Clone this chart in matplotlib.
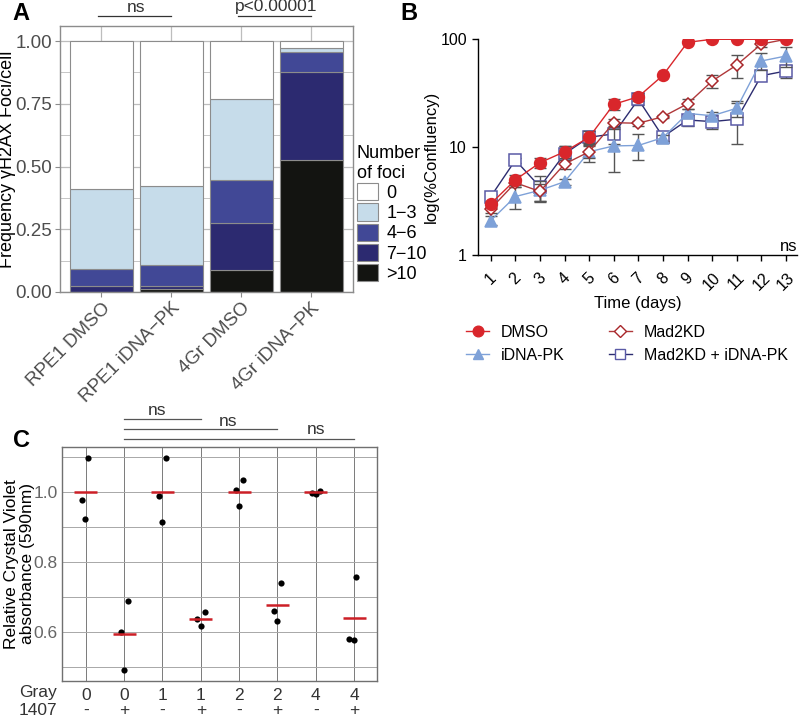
import numpy as np
import matplotlib
matplotlib.use("Agg")
import matplotlib.pyplot as plt
from matplotlib.patches import Patch
from matplotlib.lines import Line2D
import matplotlib.transforms as mtransforms

plt.rcParams['font.family'] = ['Liberation Sans', 'DejaVu Sans']

# ---------------- data ----------------
# panel A: stacked fractions of cells per foci bin
a_groups = ["RPE1 DMSO", "RPE1 iDNA\u2212PK", "4Gr DMSO", "4Gr iDNA\u2212PK"]
a_bins = ["0", "1\u22123", "4\u22126", "7\u221210", ">10"]
frac_gt10 = [0.000, 0.010, 0.088, 0.525]
frac_7_10 = [0.024, 0.014, 0.188, 0.353]
frac_4_6 = [0.066, 0.083, 0.170, 0.079]
frac_1_3 = [0.319, 0.316, 0.322, 0.016]
frac_0 = [0.591, 0.577, 0.232, 0.027]

# panel B: confluency over time
days = list(range(1, 14))
dmso = [3.0, 5.0, 7.2, 9.1, 12.4, 25.0, 29.4, 46.4, 93.8, 100, 100, 100, 100]
dmso_err = [0.2, 0.55, 0.8, 1.2, 1.7, 3.0, 2.5, 0, 0, 0, 0, 0, 0]
idnapk = [2.1, 3.5, 4.0, 4.8, 9.1, 10.3, 10.4, 12.3, 20.6, 19.6, 23.0, 63.0, 70.0]
idnapk_err = [0.2, 0.8, 0.9, 0.3, 1.8, 4.4, 2.8, 0.8, 2.0, 1.8, 4.0, 11.0, 15.0]
mad2kd = [2.7, 4.7, 3.9, 7.0, 9.1, 16.9, 16.7, 19.2, 25.3, 41.1, 57.8, 90.4, 100]
mad2kd_err = [0.25, 0.4, 0.7, 0.7, 1.2, 1.5, 1.0, 0.5, 2.5, 5.5, 14.0, 5.0, 0]
mad2kd_idnapk = [3.5, 7.6, 4.3, 8.7, 12.4, 13.3, 27.8, 12.5, 17.9, 17.3, 18.2, 46.0, 50.9]
mad2kd_idnapk_err = [0.2, 0.4, 1.1, 1.5, 1.8, 2.5, 3.0, 1.5, 2.0, 2.5, 7.5, 0, 7.0]

# panel C: relative crystal violet absorbance
c_gray = ["0", "0", "1", "1", "2", "2", "4", "4"]
c_1407 = ["-", "+", "-", "+", "-", "+", "-", "+"]
c_points = [
    [1.098, 0.978, 0.923],
    [0.689, 0.600, 0.490],
    [1.098, 0.988, 0.913],
    [0.637, 0.656, 0.615],
    [1.006, 1.035, 0.960],
    [0.660, 0.740, 0.631],
    [0.998, 0.995, 1.003],
    [0.578, 0.575, 0.757],
]
c_jitter = [
    [0.07, -0.11, -0.01],
    [0.10, -0.09, 0.01],
    [0.10, -0.10, 0.0],
    [-0.10, 0.11, 0.0],
    [-0.09, 0.11, 0.0],
    [-0.09, 0.09, 0.0],
    [-0.10, 0.0, 0.10],
    [-0.12, 0.0, 0.05],
]
c_means = [1.0, 0.593, 1.0, 0.636, 1.0, 0.676, 1.0, 0.638]

W, H = 799, 717
fig = plt.figure(figsize=(W / 100, H / 100), dpi=100)


def px_axes(l, t, r, b):
    return fig.add_axes([l / W, 1 - b / H, (r - l) / W, (b - t) / H])


def fig_xy(x, y):
    return x / W, 1 - y / H


# ---------------- panel A ----------------
axA = px_axes(59.5, 26, 353, 292)
xa = np.arange(1, 5)
stack = [frac_gt10, frac_7_10, frac_4_6, frac_1_3, frac_0]
a_colors = ["#131411", "#2c2a70", "#414896", "#c6dcea", "#ffffff"]
bottom = np.zeros(4)
for vals, col in zip(stack, a_colors):
    axA.bar(xa, vals, width=0.9, bottom=bottom, color=col,
            edgecolor="#8c8c8c", linewidth=0.8, zorder=2)
    bottom += np.array(vals)
axA.set_xlim(0.4, 4.6)
axA.set_ylim(0, 1.06)
axA.set_yticks([0, 0.25, 0.5, 0.75, 1.0])
axA.set_yticklabels(["0.00", "0.25", "0.50", "0.75", "1.00"])
axA.set_yticks(np.arange(0.125, 1.0, 0.25), minor=True)
axA.set_xticks(xa)
axA.set_xticklabels(a_groups, rotation=45, ha="right", rotation_mode="anchor")
axA.grid(True, which="major", color="#bdbdbd", linewidth=0.9)
axA.grid(True, which="minor", axis="y", color="#bdbdbd", linewidth=0.6)
axA.set_axisbelow(True)
for sp in axA.spines.values():
    sp.set_color("#8c8c8c")
    sp.set_linewidth(1.0)
axA.tick_params(axis="both", which="major", labelsize=13.5, colors="#8c8c8c",
                labelcolor="#4d4d4d", length=3.5, width=0.8)
axA.tick_params(axis="x", pad=2)
axA.tick_params(axis="y", pad=2)
axA.tick_params(which="minor", length=0)
axA.set_ylabel("Frequency \u03b3H2AX Foci/cell", fontsize=13)
axA.yaxis.set_label_coords(-0.149, 0.5)

handles = [Patch(facecolor=c, edgecolor="#8c8c8c", linewidth=0.8)
           for c in a_colors[::-1]]
legA = fig.legend(handles, a_bins, title="Number\nof foci", loc="upper left",
                  bbox_to_anchor=fig_xy(357, 145), frameon=False, fontsize=13,
                  title_fontsize=13, handlelength=1.17, handleheight=1.1,
                  labelspacing=0.08, handletextpad=0.45, borderpad=0,
                  borderaxespad=0, alignment="left")

# significance marks above A
transA = mtransforms.blended_transform_factory(axA.transData, fig.transFigure)
for x0, x1, lab in [(1, 2, "ns"), (3, 4, "p<0.00001")]:
    axA.plot([x0 - 0.05, x1], [fig_xy(0, 15.7)[1]] * 2, color="#333333",
             linewidth=0.9, transform=transA, clip_on=False)
    axA.text((x0 + x1) / 2, fig_xy(0, 7)[1], lab, transform=transA,
             ha="center", va="center", fontsize=12.5, color="#333333")

fig.text(*fig_xy(12, 14), "A", fontsize=17, fontweight="bold", va="center")

# ---------------- panel B ----------------
axB = px_axes(478, 39.3, 797, 255.3)
series = [
    ("DMSO", dmso, dmso_err, "o", "#d9262b", "#d9262b", "#d9262b", 8.5, 4),
    ("iDNA-PK", idnapk, idnapk_err, "^", "#7ea1d8", "#7ea1d8", "#7ea1d8", 8, 2),
    ("Mad2KD", mad2kd, mad2kd_err, "D", "white", "#a8262a", "#b0383a", 6.5, 3),
    ("Mad2KD + iDNA-PK", mad2kd_idnapk, mad2kd_idnapk_err, "s", "white",
     "#5a5aa6", "#2c2c70", 8, 1),
]
b_handles = []
for name, vals, err, mk, fc, ec, lc, ms, z in series:
    axB.errorbar(days, vals, yerr=err, fmt="none", ecolor="#555555",
                 elinewidth=1.0, capsize=4, capthick=1.0, zorder=z)
    axB.plot(days, vals, color=lc, linewidth=1.0, marker=mk, markersize=ms,
             markerfacecolor=fc, markeredgecolor=ec, markeredgewidth=1.1,
             zorder=z + 0.5)
    b_handles.append(Line2D([], [], color=lc, linewidth=1.0, marker=mk,
                            markersize=ms * 0.9, markerfacecolor=fc,
                            markeredgecolor=ec, markeredgewidth=1.0))
axB.set_yscale("log")
axB.set_ylim(1, 100)
axB.set_xlim(0.48, 13.45)
axB.set_yticks([1, 10, 100])
axB.set_yticklabels(["1", "10", "100"])
axB.yaxis.set_minor_locator(matplotlib.ticker.NullLocator())
axB.set_xticks(days)
axB.set_xticklabels([str(d) for d in days], rotation=45, ha="center")
for sp in ["top", "right"]:
    axB.spines[sp].set_visible(False)
for sp in ["left", "bottom"]:
    axB.spines[sp].set_linewidth(1.0)
axB.tick_params(labelsize=11.5, length=4.5, width=1.0)
axB.tick_params(axis="x", pad=6)
axB.set_xlabel("Time (days)", fontsize=12, labelpad=2)
axB.set_ylabel("log(%Confluency)", fontsize=12)
axB.yaxis.set_label_coords(-0.122, 0.455)
axB.text(1.0, 0.04, "ns", transform=axB.transAxes, ha="right", va="center",
         fontsize=12)
fig.legend(b_handles, [s[0] for s in series], ncol=2, loc="upper left",
           bbox_to_anchor=fig_xy(466, 325), frameon=False, fontsize=11.5,
           handlelength=1.45, handletextpad=0.75, columnspacing=2.75,
           labelspacing=0.5, borderpad=0, borderaxespad=0)
fig.text(*fig_xy(400, 14), "B", fontsize=17, fontweight="bold", va="center")

# ---------------- panel C ----------------
axC = px_axes(62, 446.7, 376.7, 680.7)
xc = np.arange(1, 9)
for i, (pts, jit) in enumerate(zip(c_points, c_jitter)):
    axC.scatter(xc[i] + np.array(jit), pts, s=20, color="black", zorder=3,
                linewidths=0)
axC.hlines(c_means, xc - 0.3, xc + 0.3, color="#cc1f26", linewidth=1.8,
           zorder=4)
axC.set_xlim(0.38, 8.59)
axC.set_ylim(0.46, 1.129)
axC.set_yticks([0.6, 0.8, 1.0])
axC.set_yticklabels(["0.6", "0.8", "1.0"])
axC.set_yticks([0.5, 0.7, 0.9, 1.1], minor=True)
axC.set_xticks(xc)
axC.set_xticklabels([f"{g}\n{s}" for g, s in zip(c_gray, c_1407)],
                    linespacing=1.05)
axC.grid(True, axis="x", color="#7a7a7a", linewidth=0.7)
axC.grid(True, axis="y", which="both", color="#a8a8a8", linewidth=0.7)
axC.set_axisbelow(True)
for sp in axC.spines.values():
    sp.set_color("#707070")
    sp.set_linewidth(1.0)
axC.tick_params(axis="both", which="both", length=0, labelsize=12.5)
axC.tick_params(axis="y", labelcolor="#666666", pad=3)
axC.tick_params(axis="x", labelcolor="#333333", pad=5)
axC.set_ylabel("Relative Crystal Violet\nabsorbance (590nm)", fontsize=12.5,
               linespacing=1.05)
axC.yaxis.set_label_coords(-0.086, 0.5)
fig.text(*fig_xy(57, 692.7), "Gray", ha="right", va="center", fontsize=12.5,
         color="#333333")
fig.text(*fig_xy(57, 710.7), "1407", ha="right", va="center", fontsize=12.5,
         color="#333333")

transC = mtransforms.blended_transform_factory(axC.transData, fig.transFigure)
for x1, ly, ty, tx in [(4, 419.3, 410.7, 156.7), (6, 429.3, 421, 227.7),
                       (8, 438.7, 430, 316)]:
    axC.plot([2, x1], [fig_xy(0, ly)[1]] * 2, color="#555555", linewidth=0.9,
             transform=transC, clip_on=False)
    fig.text(*fig_xy(tx, ty), "ns", ha="center", va="center", fontsize=12.5,
             color="#333333")
fig.text(*fig_xy(13, 440), "C", fontsize=17, fontweight="bold", va="center")

fig.savefig("out.png", dpi=100)
